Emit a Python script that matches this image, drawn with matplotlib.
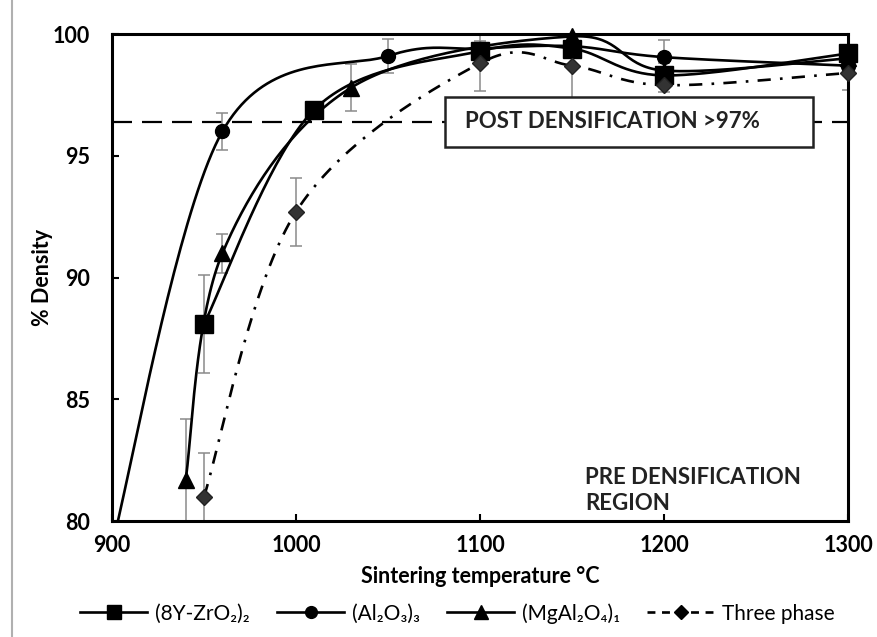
import numpy as np
import matplotlib
matplotlib.use("Agg")
import matplotlib.pyplot as plt
from matplotlib.lines import Line2D
from matplotlib.patches import Rectangle

plt.rcParams['font.family'] = ['Lato', 'DejaVu Sans']

# sintering temperature (°C) / relative density (%) / error
zr_temp = [950, 1010, 1100, 1150, 1200, 1300]
zr_dens = [88.1, 96.9, 99.3, 99.4, 98.3, 99.2]
zr_err = [2.0, 0.3, 0.3, 0.3, 0.3, 0.2]

al_temp = [900, 960, 1050, 1100, 1150, 1200, 1300]
al_dens = [79.0, 96.0, 99.1, 99.4, 99.5, 99.05, 98.7]
al_err = [0.0, 0.75, 0.7, 0.3, 0.3, 0.7, 0.3]

mg_temp = [940, 960, 1030, 1150, 1200, 1300]
mg_dens = [81.7, 91.0, 97.8, 99.9, 98.5, 99.0]
mg_err = [2.5, 0.8, 0.95, 0.2, 0.3, 0.3]

tp_temp = [950, 1000, 1100, 1150, 1200, 1300]
tp_dens = [81.0, 92.7, 98.8, 98.7, 97.9, 98.4]
tp_err = [1.8, 1.4, 1.15, 1.5, 0.3, 0.7]

legend_labels = ['(8Y-ZrO₂)₂', '(Al₂O₃)₃', '(MgAl₂O₄)₁', 'Three phase']
post_limit = 96.4


def smooth(x, y, n=40):
    # bezier smoothing through every point (control points at 1/6 of neighbour span)
    pts = np.column_stack([x, y]).astype(float)
    out = [pts[0]]
    t = np.linspace(0, 1, n)[1:, None]
    for i in range(len(pts) - 1):
        p0 = pts[i - 1] if i > 0 else pts[i]
        p1, p2 = pts[i], pts[i + 1]
        p3 = pts[i + 2] if i + 2 < len(pts) else pts[i + 1]
        c1 = p1 + (p2 - p0) / 6
        c2 = p2 - (p3 - p1) / 6
        seg = (1 - t) ** 3 * p1 + 3 * (1 - t) ** 2 * t * c1 + 3 * (1 - t) * t ** 2 * c2 + t ** 3 * p2
        out.extend(seg)
    return np.array(out)


fig = plt.figure(figsize=(8.77, 6.37), dpi=100)
ax = fig.add_axes([0.1277, 0.182, 0.8393, 0.7646])

series = [
    (zr_temp, zr_dens, zr_err, 's', 12.5, '-'),
    (al_temp, al_dens, al_err, 'o', 10, '-'),
    (mg_temp, mg_dens, mg_err, '^', 11, '-'),
    (tp_temp, tp_dens, tp_err, 'D', 8.5, (0, (5, 3.5, 1, 3.5))),
]

for temp, dens, err, mk, ms, ls in series:
    curve = smooth(temp, dens)
    ax.plot(curve[:, 0], curve[:, 1], color='black', lw=1.9, ls=ls, zorder=3)
    temp, dens, err = np.array(temp), np.array(dens), np.array(err)
    vis = dens >= 80
    ax.errorbar(temp[vis], dens[vis], yerr=err[vis], fmt='none', ecolor='#8a8a8a',
                elinewidth=1.1, capsize=4, capthick=1.1, zorder=2)
    ax.plot(temp[vis], dens[vis], ls='none', marker=mk, ms=ms, color='black',
            markeredgecolor='#222222' if mk == 'D' else 'black',
            markerfacecolor='#333333' if mk == 'D' else 'black', zorder=4, clip_on=False)

ax.axhline(post_limit, color='black', lw=1.6, dashes=(9, 4.5), zorder=1)

ax.add_patch(Rectangle((1081, 95.36), 200, 2.05, facecolor='white', edgecolor='#222222',
                       lw=1.8, zorder=5))
ax.text(1092, 96.39, 'POST DENSIFICATION >97%', fontsize=16, fontweight='bold',
        va='center', ha='left', color='#222222', zorder=6)
ax.text(1157, 81.27, 'PRE DENSIFICATION\nREGION', fontsize=16, fontweight='bold',
        va='center', ha='left', color='#222222', linespacing=1.3)

ax.set_xlim(900, 1300)
ax.set_ylim(80, 100)
ax.set_xticks([900, 1000, 1100, 1200, 1300])
ax.set_yticks([80, 85, 90, 95, 100])
ax.tick_params(direction='in', length=5, width=1.5, labelsize=15.5)
ax.tick_params(axis='x', pad=10)
ax.tick_params(axis='y', pad=16)
for lab in ax.get_xticklabels() + ax.get_yticklabels():
    lab.set_fontweight('bold')
for sp in ax.spines.values():
    sp.set_linewidth(2.2)

ax.set_xlabel('Sintering temperature °C', fontsize=15.5, fontweight='bold', labelpad=7)
ax.set_ylabel('% Density', fontsize=15.5, fontweight='bold', labelpad=0)

handles = [
    Line2D([], [], color='black', lw=1.9, marker='s', ms=10),
    Line2D([], [], color='black', lw=1.9, marker='o', ms=8.5),
    Line2D([], [], color='black', lw=1.9, marker='^', ms=9.5),
    Line2D([], [], color='black', lw=1.9, ls=(0, (3, 2.5)), marker='D', ms=7),
]
fig.legend(handles, legend_labels, loc='center', bbox_to_anchor=(0.522, 0.037), ncol=4,
           frameon=False, fontsize=15, handlelength=3.2, handletextpad=0.4,
           columnspacing=1.3)

# page border on the left
fig.add_artist(Line2D([0.014, 0.014], [0.0, 1.0], color='#b0b0b0', lw=1.5))

fig.savefig('out.png', dpi=100)
